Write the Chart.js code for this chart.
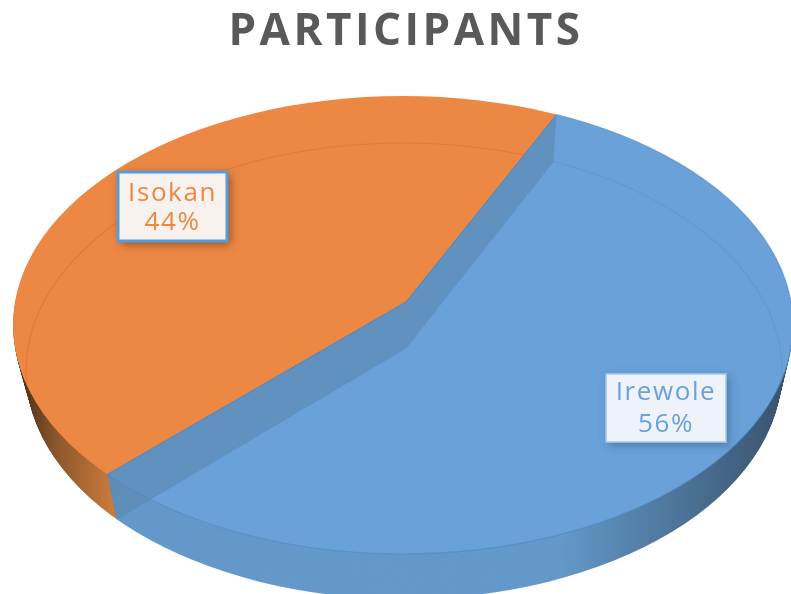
<!DOCTYPE html>
<html><head><meta charset="utf-8">
<style>html,body{margin:0;padding:0;background:#fff;overflow:hidden}canvas{display:block}</style>
<script src="https://cdn.jsdelivr.net/npm/chart.js@4"></script>
</head><body>
<canvas id="c" width="791" height="594"></canvas>
<script>
const chartTitle = 'PARTICIPANTS';
const categories = ['Irewole', 'Isokan'];
const participantShare = [56, 44];
const sliceColors = ['#69a1d8', '#ec8844'];
const sideColors = ['#6499ca', '#cf7f40'];

// Perspective of the 3D pie: top face and base of the disc
const topFace  = {ax:406, ay:302, cx:403, cy:325, rx:390, ry:229, d1:[151,-188], d2:[-298,172]};
const baseFace = {ax:406, ay:348, cx:404, cy:371, rx:378, ry:228, d1:[147,-186], d2:[-289,171]};
const labelBoxes = [
  {x:606, y:374, w:120, h:68, l1:.28, l2:.74, fill:'#eef3fb', border:'#a9c8e8', lw:1.5, text:'#6aa2d8', shadow:'rgba(40,70,110,.45)'},
  {x:118, y:172, w:109, h:69, l1:.32, l2:.74, fill:'#f7f2ee', border:'#5b9bd5', lw:3, text:'#ec8844', shadow:'rgba(70,40,20,.6)'}
];

const lerp = (a,b,t)=>a+(b-a)*t;
function faceAt(t){
  const f={};
  for(const k of ['ax','ay','cx','cy','rx','ry']) f[k]=lerp(topFace[k],baseFace[k],t);
  f.d1=[lerp(topFace.d1[0],baseFace.d1[0],t),lerp(topFace.d1[1],baseFace.d1[1],t)];
  f.d2=[lerp(topFace.d2[0],baseFace.d2[0],t),lerp(topFace.d2[1],baseFace.d2[1],t)];
  return f;
}
function applyFace(ctx,f,arc){
  // affine map that sends the data's two slice boundaries on to the face's boundary rays
  const u1=[Math.cos(arc.startAngle),Math.sin(arc.startAngle)];
  const u2=[Math.cos(arc.endAngle),Math.sin(arc.endAngle)];
  const det=u1[0]*u2[1]-u2[0]*u1[1];
  const k=2.2/arc.outerRadius;
  const v1=[f.d1[0]*k,f.d1[1]*k], v2=[f.d2[0]*k,f.d2[1]*k];
  const a=(v1[0]*u2[1]-v2[0]*u1[1])/det, c=(v2[0]*u1[0]-v1[0]*u2[0])/det;
  const b=(v1[1]*u2[1]-v2[1]*u1[1])/det, d=(v2[1]*u1[0]-v1[1]*u2[0])/det;
  ctx.translate(f.ax,f.ay);
  ctx.transform(a,b,c,d,0,0);
  ctx.translate(-arc.x,-arc.y);
}
function drawFace(ctx,f,arcs,colors){
  ctx.save();
  ctx.beginPath(); ctx.ellipse(f.cx,f.cy,f.rx,f.ry,0,0,Math.PI*2); ctx.clip();
  const ref=arcs[0];
  applyFace(ctx,f,ref);
  arcs.forEach((arc,i)=>{
    const el=Object.create(arc);
    el.options=Object.assign({},arc.options,{backgroundColor:colors[i],borderWidth:0});
    el.draw(ctx);
  });
  ctx.restore();
}
function rayHit(f,ax,ay,d){
  const A=(d[0]/f.rx)**2+(d[1]/f.ry)**2;
  const px=(ax-f.cx)/f.rx, py=(ay-f.cy)/f.ry;
  const B=2*(px*d[0]/f.rx+py*d[1]/f.ry), C=px*px+py*py-1;
  const s=(-B+Math.sqrt(B*B-4*A*C))/(2*A);
  return [ax+d[0]*s,ay+d[1]*s];
}
const param=(f,p)=>Math.atan2((p[1]-f.cy)/f.ry,(p[0]-f.cx)/f.rx);

const pie3d={
  id:'pie3d',
  beforeDraw(chart){ chart.ctx.letterSpacing='3.5px'; },
  beforeDatasetsDraw(chart){
    const ctx=chart.ctx, arcs=chart.getDatasetMeta(0).data;
    ctx.letterSpacing='0px';
    // side wall: sweep the disc from base to top
    const steps=46;
    for(let i=steps;i>0;i--) drawFace(ctx,faceAt(i/steps),arcs,sideColors);
    // side wall shading
    ctx.save();
    ctx.globalCompositeOperation='source-atop';
    let g=ctx.createLinearGradient(22,0,118,0);
    g.addColorStop(0,'rgba(30,20,10,.72)'); g.addColorStop(.35,'rgba(30,20,10,.38)'); g.addColorStop(1,'rgba(30,20,10,0)');
    ctx.fillStyle=g; ctx.fillRect(0,300,118,294);
    g=ctx.createLinearGradient(560,0,788,0);
    g.addColorStop(0,'rgba(30,40,50,0)'); g.addColorStop(1,'rgba(30,40,50,.62)');
    ctx.fillStyle=g; ctx.fillRect(560,300,231,294);
    ctx.restore();
    // top face
    drawFace(ctx,topFace,arcs,sliceColors);

    const T1=rayHit(topFace,topFace.ax,topFace.ay,topFace.d1), T2=rayHit(topFace,topFace.ax,topFace.ay,topFace.d2);
    const B1=rayHit(baseFace,baseFace.ax,baseFace.ay,baseFace.d1), B2=rayHit(baseFace,baseFace.ax,baseFace.ay,baseFace.d2);
    // cut walls seen through the translucent blue slice
    ctx.fillStyle='rgba(91,134,171,.55)';
    for(const [p,q] of [[T1,B1],[T2,B2]]){
      ctx.beginPath(); ctx.moveTo(topFace.ax,topFace.ay); ctx.lineTo(p[0],p[1]); ctx.lineTo(q[0],q[1]); ctx.lineTo(baseFace.ax,baseFace.ay); ctx.closePath(); ctx.fill();
    }
    // base rim seen through the top face
    ctx.save();
    ctx.beginPath(); ctx.ellipse(topFace.cx,topFace.cy,topFace.rx,topFace.ry,0,0,Math.PI*2); ctx.clip();
    const R1=rayHit(baseFace,topFace.ax,topFace.ay,topFace.d1), R2=rayHit(baseFace,topFace.ax,topFace.ay,topFace.d2);
    ctx.lineWidth=1.1;
    ctx.strokeStyle='rgba(222,112,40,.6)';
    ctx.beginPath(); ctx.ellipse(baseFace.cx,baseFace.cy,baseFace.rx,baseFace.ry,0,param(baseFace,R1),param(baseFace,R2),true); ctx.stroke();
    ctx.strokeStyle='rgba(80,140,205,.35)';
    ctx.beginPath(); ctx.ellipse(baseFace.cx,baseFace.cy,baseFace.rx,baseFace.ry,0,param(baseFace,B1),param(baseFace,B2),false); ctx.stroke();
    ctx.restore();
    // blue edges of the slice
    ctx.lineWidth=1.1;
    ctx.strokeStyle='rgba(70,135,200,.55)';
    ctx.beginPath(); ctx.ellipse(topFace.cx,topFace.cy,topFace.rx,topFace.ry,0,param(topFace,T1),param(topFace,T2),false); ctx.stroke();
    ctx.strokeStyle='rgba(70,135,200,.8)';
    ctx.beginPath(); ctx.moveTo(T1[0],T1[1]); ctx.lineTo(topFace.ax,topFace.ay); ctx.lineTo(T2[0],T2[1]); ctx.stroke();
    ctx.beginPath(); ctx.moveTo(T2[0],T2[1]); ctx.lineTo(B2[0],B2[1]); ctx.lineTo(baseFace.ax,baseFace.ay); ctx.lineTo(B1[0],B1[1]); ctx.strokeStyle='rgba(80,140,200,.35)'; ctx.stroke();
    return false;
  },
  afterDraw(chart){
    const ctx=chart.ctx;
    const total=participantShare.reduce((a,b)=>a+b,0);
    categories.forEach((name,i)=>{
      const b=labelBoxes[i];
      ctx.save();
      ctx.shadowColor=b.shadow; ctx.shadowBlur=9; ctx.shadowOffsetX=3; ctx.shadowOffsetY=3;
      ctx.fillStyle=b.fill; ctx.fillRect(b.x,b.y,b.w,b.h);
      ctx.restore();
      ctx.strokeStyle=b.border; ctx.lineWidth=b.lw; ctx.strokeRect(b.x,b.y,b.w,b.h);
      ctx.fillStyle=b.text; ctx.textAlign='center'; ctx.textBaseline='middle';
      ctx.font='26px "Open Sans"';
      ctx.letterSpacing='1.6px';
      ctx.fillText(name,b.x+b.w/2,b.y+b.h*b.l1);
      ctx.fillText(Math.round(participantShare[i]/total*100)+'%',b.x+b.w/2,b.y+b.h*b.l2);
      ctx.letterSpacing='0px';
    });
  }
};

new Chart(document.getElementById('c'),{
  type:'pie',
  data:{labels:categories,datasets:[{data:participantShare,backgroundColor:sliceColors,borderWidth:0}]},
  plugins:[pie3d],
  options:{
    responsive:false,animation:false,rotation:39,
    layout:{padding:{left:21}},
    plugins:{
      legend:{display:false},tooltip:{enabled:false},
      title:{display:true,text:chartTitle,color:'#595959',font:{family:'Open Sans',size:44,weight:'bold'},padding:{top:6,bottom:10}}
    }
  }
});
</script>
</body></html>
